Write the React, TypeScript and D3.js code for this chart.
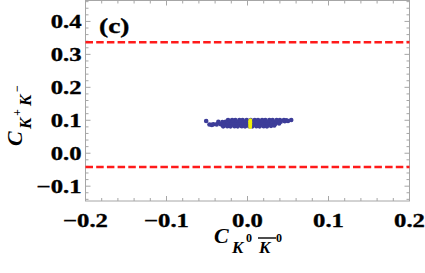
import React from "react";
import * as d3 from "d3";

const W = 425;
const H = 273;

const X_TICKS = [-0.2, -0.1, 0.0, 0.1, 0.2];
const X_TICK_LABELS = ["\u22120.2", "\u22120.1", "0.0", "0.1", "0.2"];
const Y_TICKS = [-0.1, 0.0, 0.1, 0.2, 0.3, 0.4];
const Y_TICK_LABELS = ["\u22120.1", "0.0", "0.1", "0.2", "0.3", "0.4"];

// horizontal bound lines (red dashed)
const BOUNDS = [0.337, -0.042];

// scatter cloud (blue) — x values and y values per point
const CLOUD_X = [
  -0.024, -0.019, -0.015, -0.010, -0.006, -0.001, 0.004, 0.009, 0.013, 0.018, 0.022, 0.027, 0.031, 0.036, 0.040, 0.045, 0.048,
  -0.036, -0.031, -0.027, -0.022, -0.018, -0.013, -0.009, -0.004, 0.000, 0.005, 0.009, 0.014, 0.018, 0.023, 0.027, 0.032, 0.036, 0.041, 0.046, 0.050,
  -0.042, -0.038, -0.033, -0.029, -0.024, -0.020, -0.015, -0.011, -0.006, -0.002, 0.003, 0.007, 0.012, 0.016, 0.021, 0.025, 0.030, 0.034, 0.039,
  -0.030, -0.025, -0.021, -0.016, -0.012, -0.007, -0.003, 0.002, 0.006, 0.011, 0.015, 0.020, 0.024, 0.029, 0.033,
  -0.051, -0.047, -0.044, 0.054,
];
const CLOUD_Y = [
  0.1005, 0.101, 0.1005, 0.101, 0.1005, 0.101, 0.1005, 0.101, 0.1005, 0.101, 0.1005, 0.101, 0.1005, 0.101, 0.1005, 0.1005, 0.100,
  0.095, 0.0945, 0.095, 0.0945, 0.095, 0.0945, 0.095, 0.0945, 0.095, 0.0945, 0.095, 0.0945, 0.095, 0.0945, 0.095, 0.0945, 0.095, 0.0955, 0.097, 0.098,
  0.088, 0.0875, 0.088, 0.0875, 0.088, 0.0875, 0.088, 0.0875, 0.088, 0.0875, 0.088, 0.0875, 0.088, 0.0875, 0.088, 0.0875, 0.088, 0.0885, 0.090,
  0.0815, 0.082, 0.0815, 0.082, 0.0815, 0.082, 0.0815, 0.082, 0.0815, 0.082, 0.0815, 0.082, 0.0815, 0.083, 0.084,
  0.098, 0.087, 0.086, 0.101,
];

// highlighted points (yellow)
const HL_X = [0.0033, 0.0035, 0.0033, 0.0035, 0.0033, 0.0035, 0.0033];
const HL_Y = [0.083, 0.0865, 0.090, 0.0935, 0.097, 0.1005, 0.0795];

export default function App() {
  const x = d3.scaleLinear().domain([-0.2, 0.2]).range([85.5, 409.5]);
  const y = d3.scaleLinear().domain([-0.145, 0.465]).range([201, 0]);

  const x0 = x(-0.2);
  const x1 = x(0.2);
  const yb = y(-0.145);
  const yt = 0.5;

  const xMinor = d3.range(-20, 21, 2).map((v) => v / 100).filter((v) => !X_TICKS.some((t) => Math.abs(t - v) < 1e-9));
  const yMinor = d3.range(-14, 47, 2).map((v) => v / 100).filter((v) => !Y_TICKS.some((t) => Math.abs(t - v) < 1e-9));

  const frame = "#a6a6a6";
  const font = "Liberation Serif";
  const cloudColor = "#3d3d99";
  const labelStyle = { fontFamily: font, fontWeight: 700, fontSize: 19 };

  return (
    <svg width={W} height={H} style={{ position: "absolute", left: 0, top: 0, background: "#fff" }}>
      {/* frame */}
      <rect x={x0} y={yt} width={x1 - x0} height={yb - yt} fill="none" stroke={frame} strokeWidth={1} />

      {/* x ticks */}
      {X_TICKS.map((t) => (
        <g key={"xt" + t}>
          <line x1={x(t)} x2={x(t)} y1={yb} y2={yb - 5} stroke={frame} />
          <line x1={x(t)} x2={x(t)} y1={yt} y2={yt + 5} stroke={frame} />
        </g>
      ))}
      {xMinor.map((t) => (
        <g key={"xm" + t}>
          <line x1={x(t)} x2={x(t)} y1={yb} y2={yb - 3} stroke={frame} />
          <line x1={x(t)} x2={x(t)} y1={yt} y2={yt + 3} stroke={frame} />
        </g>
      ))}
      {/* y ticks */}
      {Y_TICKS.map((t) => (
        <g key={"yt" + t}>
          <line x1={x0} x2={x0 + 5} y1={y(t)} y2={y(t)} stroke={frame} />
          <line x1={x1} x2={x1 - 5} y1={y(t)} y2={y(t)} stroke={frame} />
        </g>
      ))}
      {yMinor.map((t) => (
        <g key={"ym" + t}>
          <line x1={x0} x2={x0 + 3} y1={y(t)} y2={y(t)} stroke={frame} />
          <line x1={x1} x2={x1 - 3} y1={y(t)} y2={y(t)} stroke={frame} />
        </g>
      ))}

      {/* bounds */}
      {BOUNDS.map((b) => (
        <line key={"b" + b} x1={x0} x2={x1} y1={y(b)} y2={y(b)} stroke="#ff1a1a" strokeWidth={2.6} strokeDasharray="7.5,3.2" />
      ))}

      {/* cloud */}
      {CLOUD_X.map((cx, i) => (
        <circle key={"c" + i} cx={x(cx)} cy={y(CLOUD_Y[i])} r={2.3} fill={cloudColor} />
      ))}
      {HL_X.map((cx, i) => (
        <circle key={"h" + i} cx={x(cx)} cy={y(HL_Y[i])} r={1.9} fill="#f0f00a" />
      ))}

      {/* x tick labels */}
      {X_TICKS.map((t, i) => (
        <text
          key={"xl" + t}
          transform={`translate(${x(t)},${yb + 26}) scale(1.3,1)`}
          textAnchor="middle"
          stroke="#000"
          strokeWidth={0.35}
          style={labelStyle}
        >
          {X_TICK_LABELS[i]}
        </text>
      ))}
      {/* y tick labels */}
      {Y_TICKS.map((t, i) => (
        <text
          key={"yl" + t}
          transform={`translate(${x0 - 4},${y(t) + 6.5}) scale(1.3,1)`}
          textAnchor="end"
          stroke="#000"
          strokeWidth={0.35}
          style={labelStyle}
        >
          {Y_TICK_LABELS[i]}
        </text>
      ))}

      {/* panel label */}
      <text transform="translate(99,33) scale(1.25,1)" stroke="#000" strokeWidth={0.35} style={{ fontFamily: font, fontWeight: 700, fontSize: 22 }}>
        (c)
      </text>

      {/* x axis title */}
      <g style={{ fontFamily: font, fontWeight: 700 }}>
        <text x={214} y={243} fontStyle="italic" fontSize={22}>C</text>
        <text x={232} y={253} fontStyle="italic" fontSize={17}>K</text>
        <text x={246} y={242} fontSize={12}>0</text>
        <text x={259} y={253} fontStyle="italic" fontSize={17}>K</text>
        <line x1={258} x2={276} y1={238} y2={238} stroke="#000" strokeWidth={1.4} />
        <text x={276} y={242} fontSize={12}>0</text>
      </g>

      {/* y axis title */}
      <g transform="translate(22,146) rotate(-90)" style={{ fontFamily: font, fontWeight: 700 }}>
        <text x={0} y={0} fontStyle="italic" fontSize={22}>C</text>
        <text x={17} y={9} fontStyle="italic" fontSize={17}>K</text>
        <text x={30} y={-1} fontSize={12}>+</text>
        <text x={40} y={9} fontStyle="italic" fontSize={17}>K</text>
        <text x={54} y={-1} fontSize={12}>{"\u2212"}</text>
      </g>
    </svg>
  );
}
